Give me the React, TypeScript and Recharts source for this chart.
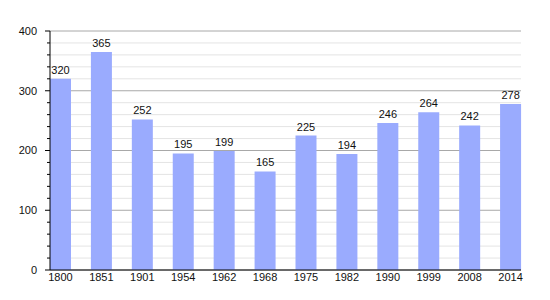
import { BarChart, Bar, XAxis, YAxis, CartesianGrid, LabelList } from 'recharts'

// page has an 8px default margin; the reference starts at the corner
document.body.style.margin = '0'

const years = ['1800', '1851', '1901', '1954', '1962', '1968', '1975', '1982', '1990', '1999', '2008', '2014']
const population = [320, 365, 252, 195, 199, 165, 225, 194, 246, 264, 242, 278]
const yTicks = [0, 20, 40, 60, 80, 100, 120, 140, 160, 180, 200, 220, 240, 260, 280, 300, 320, 340, 360, 380, 400]
const labelledTicks = [0, 100, 200, 300, 400]

const data = years.map((year, i) => ({ year, value: population[i] }))

const FONT = '"Liberation Sans", Arial, sans-serif'
const BAR = '#9aabfe'

function YTick({ x, y, payload }: any) {
  const major = labelledTicks.includes(payload.value)
  return (
    <g>
      <line x1={x - (major ? 5 : 3)} x2={x} y1={y} y2={y} stroke="#000" />
      {major && (
        <text x={x - 13} y={y} dy="0.35em" textAnchor="end" fontSize={11} fontFamily={FONT} fill="#111">
          {payload.value}
        </text>
      )}
    </g>
  )
}

function GridLine(p: any) {
  const major = p.index % 5 === 0
  return (
    <line
      key={p.key}
      x1={p.x1}
      x2={p.x2}
      y1={p.y1}
      y2={p.y2}
      stroke={major ? '#a8a8a8' : '#e4e4e4'}
      strokeWidth={1}
    />
  )
}

export default function App() {
  return (
    <div style={{ width: 550, height: 300, background: '#fff' }}>
      <BarChart width={550} height={300} data={data} margin={{ top: 31, right: 29, left: 0, bottom: 0 }}>
        <CartesianGrid vertical={false} horizontal={GridLine} />
        <XAxis
          dataKey="year"
          padding={{ left: -10, right: -10 }}
          height={30}
          tickLine={false}
          tickSize={0}
          tickMargin={3}
          axisLine={{ stroke: '#000' }}
          interval={0}
          tick={{ fontSize: 11, fontFamily: FONT, fill: '#111' }}
        />
        <YAxis
          width={50}
          domain={[0, 400]}
          ticks={yTicks}
          interval={0}
          tickLine={false}
          tickSize={0}
          tickMargin={0}
          axisLine={{ stroke: '#000' }}
          tick={<YTick />}
        />
        <Bar dataKey="value" fill={BAR} barSize={21} isAnimationActive={false}>
          <LabelList dataKey="value" position="top" offset={5} fontSize={11} fontFamily={FONT} fill="#111" />
        </Bar>
      </BarChart>
    </div>
  )
}
